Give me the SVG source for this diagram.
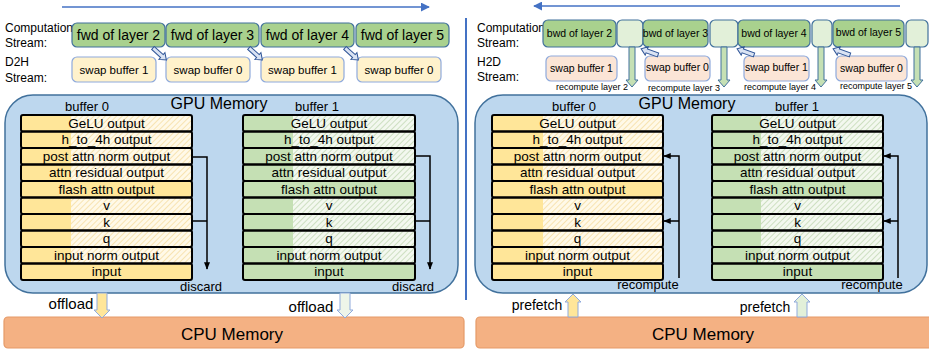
<svg xmlns="http://www.w3.org/2000/svg" width="929" height="351" viewBox="0 0 929 351">
<defs>
<pattern id="hy" patternUnits="userSpaceOnUse" width="4" height="4" patternTransform="rotate(45)">
<rect width="4" height="4" fill="#FFF9E8"/><line x1="0" y1="0" x2="0" y2="4" stroke="#F2D58C" stroke-width="1.2"/>
</pattern>
<pattern id="hg" patternUnits="userSpaceOnUse" width="4" height="4" patternTransform="rotate(45)">
<rect width="4" height="4" fill="#F3F8EF"/><line x1="0" y1="0" x2="0" y2="4" stroke="#B3CFA3" stroke-width="1.2"/>
</pattern>
<marker id="ab" viewBox="0 0 10 10" refX="9" refY="5" markerWidth="6" markerHeight="6" orient="auto"><path d="M0,0 L10,5 L0,10 Z" fill="#4472C4"/></marker>
<marker id="ak" viewBox="0 0 10 10" refX="9" refY="5" markerWidth="5" markerHeight="5" orient="auto"><path d="M0,1 L10,5 L0,9 Z" fill="#000"/></marker>
<path id="dia" d="M0,-2 L12,-2 L12,-4.5 L18,0 L12,4.5 L12,2 L0,2 Z"/>
</defs>
<style>
text{font-family:"Liberation Sans",Arial,sans-serif;fill:#000}
.lab{font-size:12px}
.comp{fill:#A9D18E;stroke:#41719C;stroke-width:1.2}
.lite{fill:#E2F0D9;stroke:#41719C;stroke-width:1.2}
.d2h{fill:#FFF2CC;stroke:#8FAADC;stroke-width:1.2}
.h2d{fill:#FBE5D6;stroke:#8FAADC;stroke-width:1.2}
.ct{font-size:14px;text-anchor:middle}
.bt{font-size:10.5px;text-anchor:middle}
.st{font-size:11.5px;text-anchor:middle}
.sr{font-size:10.5px;text-anchor:middle}
.rc{font-size:9px;text-anchor:middle}
.gpu{fill:#BDD7EE;stroke:#41719C;stroke-width:1.5}
.cpu{fill:#F4B183;stroke:#E59A68;stroke-width:1.2}
.hy{fill:url(#hy)}
.hg{fill:url(#hg)}
.sy{fill:#FFE699}
.sg{fill:#C5E0B4}
.bd{fill:none;stroke:#000;stroke-width:2}
.rt{font-size:13.5px;text-anchor:middle}
.mt{font-size:13px;text-anchor:middle}
.of{font-size:15px;text-anchor:middle}
.pf{font-size:14px;text-anchor:middle}
.big{font-size:16px;text-anchor:middle}
.cpt{font-size:17px;text-anchor:middle}
.ln{fill:none;stroke:#000;stroke-width:1.5}
.dia{fill:#DAE3F3;stroke:#2F5597;stroke-width:1}
.vg{fill:#C5E0B4;stroke:#41719C;stroke-width:1}
</style>

<!-- panels -->
<g id="gpu-left"><rect class="gpu" x="5" y="95" width="453" height="198" rx="28"/><text class="big" x="219" y="109">GPU Memory</text></g>
<g id="gpu-right"><rect class="gpu" x="475" y="95" width="452" height="198" rx="28"/><text class="big" x="687" y="109">GPU Memory</text></g>
<g id="cpu-left"><rect class="cpu" x="4" y="317" width="460" height="31" rx="4"/><text class="cpt" x="232" y="340">CPU Memory</text></g>
<g id="cpu-right"><rect class="cpu" x="476" y="317" width="460" height="31" rx="4"/><text class="cpt" x="703" y="340">CPU Memory</text></g>

<!-- stream labels -->
<g id="labels-left" class="lab"><text x="5" y="32">Computation</text><text x="5" y="47">Stream:</text><text x="5" y="66">D2H</text><text x="5" y="82">Stream:</text></g>
<g id="labels-right" class="lab"><text x="477" y="32">Computation</text><text x="477" y="47">Stream:</text><text x="477" y="66">H2D</text><text x="477" y="81">Stream:</text></g>

<!-- forward computation -->
<g id="fwd2"><rect class="comp" x="72" y="23" width="93" height="24" rx="5"/><text class="ct" x="118.5" y="40">fwd of layer 2</text></g>
<g id="fwd3"><rect class="comp" x="166" y="23" width="93" height="24" rx="5"/><text class="ct" x="212.5" y="40">fwd of layer 3</text></g>
<g id="fwd4"><rect class="comp" x="261" y="23" width="93" height="24" rx="5"/><text class="ct" x="307.5" y="40">fwd of layer 4</text></g>
<g id="fwd5"><rect class="comp" x="356" y="23" width="93" height="24" rx="5"/><text class="ct" x="402.5" y="40">fwd of layer 5</text></g>
<g id="d2h1"><rect class="d2h" x="72" y="57" width="84" height="25" rx="5"/><text class="st" x="114" y="74">swap buffer 1</text></g>
<g id="d2h2"><rect class="d2h" x="166" y="57" width="84" height="25" rx="5"/><text class="st" x="208" y="74">swap buffer 0</text></g>
<g id="d2h3"><rect class="d2h" x="261" y="57" width="83" height="25" rx="5"/><text class="st" x="302.5" y="74">swap buffer 1</text></g>
<g id="d2h4"><rect class="d2h" x="357" y="57" width="84" height="25" rx="5"/><text class="st" x="399" y="74">swap buffer 0</text></g>

<!-- backward computation -->
<g id="bwd2"><rect class="comp" x="543" y="20" width="73" height="27" rx="5"/><text class="bt" x="579.5" y="37">bwd of layer 2</text></g>
<g id="rc2"><rect class="lite" x="617" y="20" width="26" height="27" rx="5"/></g>
<g id="bwd3"><rect class="comp" x="643" y="20" width="65" height="27" rx="5"/><text class="bt" x="675.5" y="37">bwd of layer 3</text></g>
<g id="rc3"><rect class="lite" x="710" y="20" width="28" height="27" rx="5"/></g>
<g id="bwd4"><rect class="comp" x="738" y="20" width="72" height="27" rx="5"/><text class="bt" x="774" y="37">bwd of layer 4</text></g>
<g id="rc4"><rect class="lite" x="812" y="20" width="20" height="27" rx="5"/></g>
<g id="bwd5"><rect class="comp" x="833" y="20" width="71" height="27" rx="5"/><text class="bt" x="868.5" y="36">bwd of layer 5</text></g>
<g id="rc5"><rect class="lite" x="906" y="20" width="22" height="27" rx="5"/></g>
<g id="h2d1"><rect class="h2d" x="546" y="56" width="71" height="25" rx="5"/><text class="sr" x="581.5" y="72">swap buffer 1</text></g>
<g id="h2d2"><rect class="h2d" x="645" y="56" width="65" height="25" rx="5"/><text class="sr" x="677.5" y="71">swap buffer 0</text></g>
<g id="h2d3"><rect class="h2d" x="744" y="56" width="65" height="25" rx="5"/><text class="sr" x="776.5" y="71">swap buffer 1</text></g>
<g id="h2d4"><rect class="h2d" x="836" y="56" width="71" height="25" rx="5"/><text class="sr" x="871.5" y="72">swap buffer 0</text></g>
<g id="rc-labels"><text class="rc" x="592" y="90">recompute layer 2</text><text class="rc" x="684" y="91">recompute layer 3</text><text class="rc" x="780" y="90">recompute layer 4</text><text class="rc" x="876" y="89">recompute layer 5</text></g>

<!-- left buffer 0 -->
<g id="lbuf0">
<text class="mt" x="87" y="111">buffer 0</text>
<rect class="hy" x="21" y="115" width="171" height="16.5"/><rect class="sy" x="21" y="115" width="50" height="16.5"/>
<rect class="hy" x="21" y="131.5" width="171" height="16.5"/><rect class="sy" x="21" y="131.5" width="50" height="16.5"/>
<rect class="hy" x="21" y="148" width="171" height="16.5"/><rect class="sy" x="21" y="148" width="50" height="16.5"/>
<rect class="hy" x="21" y="164.5" width="171" height="16.5"/><rect class="sy" x="21" y="164.5" width="50" height="16.5"/>
<rect class="sy" x="21" y="181" width="171" height="16.5"/>
<rect class="hy" x="21" y="197.5" width="171" height="16.5"/><rect class="sy" x="21" y="197.5" width="50" height="16.5"/>
<rect class="hy" x="21" y="214" width="171" height="16.5"/><rect class="sy" x="21" y="214" width="50" height="16.5"/>
<rect class="hy" x="21" y="230.5" width="171" height="16.5"/><rect class="sy" x="21" y="230.5" width="50" height="16.5"/>
<rect class="hy" x="21" y="247" width="171" height="16.5"/><rect class="sy" x="21" y="247" width="50" height="16.5"/>
<rect class="sy" x="21" y="263.5" width="171" height="16.5"/>
<rect class="bd" x="21" y="115" width="171" height="16.5" rx="2"/><rect class="bd" x="21" y="131.5" width="171" height="16.5" rx="2"/><rect class="bd" x="21" y="148" width="171" height="16.5" rx="2"/><rect class="bd" x="21" y="164.5" width="171" height="16.5" rx="2"/><rect class="bd" x="21" y="181" width="171" height="16.5" rx="2"/><rect class="bd" x="21" y="197.5" width="171" height="16.5" rx="2"/><rect class="bd" x="21" y="214" width="171" height="16.5" rx="2"/><rect class="bd" x="21" y="230.5" width="171" height="16.5" rx="2"/><rect class="bd" x="21" y="247" width="171" height="16.5" rx="2"/><rect class="bd" x="21" y="263.5" width="171" height="16.5" rx="2"/>
<g class="rt"><text x="106.5" y="127.8">GeLU output</text><text x="106.5" y="144.3">h_to_4h output</text><text x="106.5" y="160.8">post attn norm output</text><text x="106.5" y="177.3">attn residual output</text><text x="106.5" y="193.8">flash attn output</text><text x="106.5" y="210.3">v</text><text x="106.5" y="226.8">k</text><text x="106.5" y="243.3">q</text><text x="106.5" y="259.8">input norm output</text><text x="106.5" y="276.3">input</text></g>
</g>

<!-- left buffer 1 -->
<g id="lbuf1">
<text class="mt" x="317" y="111">buffer 1</text>
<rect class="hg" x="243" y="115" width="172" height="16.5"/><rect class="sg" x="243" y="115" width="50" height="16.5"/>
<rect class="hg" x="243" y="131.5" width="172" height="16.5"/><rect class="sg" x="243" y="131.5" width="50" height="16.5"/>
<rect class="hg" x="243" y="148" width="172" height="16.5"/><rect class="sg" x="243" y="148" width="50" height="16.5"/>
<rect class="hg" x="243" y="164.5" width="172" height="16.5"/><rect class="sg" x="243" y="164.5" width="50" height="16.5"/>
<rect class="sg" x="243" y="181" width="172" height="16.5"/>
<rect class="hg" x="243" y="197.5" width="172" height="16.5"/><rect class="sg" x="243" y="197.5" width="50" height="16.5"/>
<rect class="hg" x="243" y="214" width="172" height="16.5"/><rect class="sg" x="243" y="214" width="50" height="16.5"/>
<rect class="hg" x="243" y="230.5" width="172" height="16.5"/><rect class="sg" x="243" y="230.5" width="50" height="16.5"/>
<rect class="hg" x="243" y="247" width="172" height="16.5"/><rect class="sg" x="243" y="247" width="50" height="16.5"/>
<rect class="sg" x="243" y="263.5" width="172" height="16.5"/>
<rect class="bd" x="243" y="115" width="172" height="16.5" rx="2"/><rect class="bd" x="243" y="131.5" width="172" height="16.5" rx="2"/><rect class="bd" x="243" y="148" width="172" height="16.5" rx="2"/><rect class="bd" x="243" y="164.5" width="172" height="16.5" rx="2"/><rect class="bd" x="243" y="181" width="172" height="16.5" rx="2"/><rect class="bd" x="243" y="197.5" width="172" height="16.5" rx="2"/><rect class="bd" x="243" y="214" width="172" height="16.5" rx="2"/><rect class="bd" x="243" y="230.5" width="172" height="16.5" rx="2"/><rect class="bd" x="243" y="247" width="172" height="16.5" rx="2"/><rect class="bd" x="243" y="263.5" width="172" height="16.5" rx="2"/>
<g class="rt"><text x="329" y="127.8">GeLU output</text><text x="329" y="144.3">h_to_4h output</text><text x="329" y="160.8">post attn norm output</text><text x="329" y="177.3">attn residual output</text><text x="329" y="193.8">flash attn output</text><text x="329" y="210.3">v</text><text x="329" y="226.8">k</text><text x="329" y="243.3">q</text><text x="329" y="259.8">input norm output</text><text x="329" y="276.3">input</text></g>
</g>

<!-- right buffer 0 -->
<g id="rbuf0">
<text class="mt" x="574" y="111">buffer 0</text>
<rect class="hy" x="492" y="115" width="171" height="16.5"/><rect class="sy" x="492" y="115" width="51" height="16.5"/>
<rect class="hy" x="492" y="131.5" width="171" height="16.5"/><rect class="sy" x="492" y="131.5" width="51" height="16.5"/>
<rect class="hy" x="492" y="148" width="171" height="16.5"/><rect class="sy" x="492" y="148" width="51" height="16.5"/>
<rect class="hy" x="492" y="164.5" width="171" height="16.5"/><rect class="sy" x="492" y="164.5" width="51" height="16.5"/>
<rect class="sy" x="492" y="181" width="171" height="16.5"/>
<rect class="hy" x="492" y="197.5" width="171" height="16.5"/><rect class="sy" x="492" y="197.5" width="51" height="16.5"/>
<rect class="hy" x="492" y="214" width="171" height="16.5"/><rect class="sy" x="492" y="214" width="51" height="16.5"/>
<rect class="hy" x="492" y="230.5" width="171" height="16.5"/><rect class="sy" x="492" y="230.5" width="51" height="16.5"/>
<rect class="hy" x="492" y="247" width="171" height="16.5"/><rect class="sy" x="492" y="247" width="51" height="16.5"/>
<rect class="sy" x="492" y="263.5" width="171" height="16.5"/>
<rect class="bd" x="492" y="115" width="171" height="16.5" rx="2"/><rect class="bd" x="492" y="131.5" width="171" height="16.5" rx="2"/><rect class="bd" x="492" y="148" width="171" height="16.5" rx="2"/><rect class="bd" x="492" y="164.5" width="171" height="16.5" rx="2"/><rect class="bd" x="492" y="181" width="171" height="16.5" rx="2"/><rect class="bd" x="492" y="197.5" width="171" height="16.5" rx="2"/><rect class="bd" x="492" y="214" width="171" height="16.5" rx="2"/><rect class="bd" x="492" y="230.5" width="171" height="16.5" rx="2"/><rect class="bd" x="492" y="247" width="171" height="16.5" rx="2"/><rect class="bd" x="492" y="263.5" width="171" height="16.5" rx="2"/>
<g class="rt"><text x="577.5" y="127.8">GeLU output</text><text x="577.5" y="144.3">h_to_4h output</text><text x="577.5" y="160.8">post attn norm output</text><text x="577.5" y="177.3">attn residual output</text><text x="577.5" y="193.8">flash attn output</text><text x="577.5" y="210.3">v</text><text x="577.5" y="226.8">k</text><text x="577.5" y="243.3">q</text><text x="577.5" y="259.8">input norm output</text><text x="577.5" y="276.3">input</text></g>
</g>

<!-- right buffer 1 -->
<g id="rbuf1">
<text class="mt" x="797" y="111">buffer 1</text>
<rect class="hg" x="712" y="115" width="171" height="16.5"/><rect class="sg" x="712" y="115" width="49" height="16.5"/>
<rect class="hg" x="712" y="131.5" width="171" height="16.5"/><rect class="sg" x="712" y="131.5" width="49" height="16.5"/>
<rect class="hg" x="712" y="148" width="171" height="16.5"/><rect class="sg" x="712" y="148" width="49" height="16.5"/>
<rect class="hg" x="712" y="164.5" width="171" height="16.5"/><rect class="sg" x="712" y="164.5" width="49" height="16.5"/>
<rect class="sg" x="712" y="181" width="171" height="16.5"/>
<rect class="hg" x="712" y="197.5" width="171" height="16.5"/><rect class="sg" x="712" y="197.5" width="49" height="16.5"/>
<rect class="hg" x="712" y="214" width="171" height="16.5"/><rect class="sg" x="712" y="214" width="49" height="16.5"/>
<rect class="hg" x="712" y="230.5" width="171" height="16.5"/><rect class="sg" x="712" y="230.5" width="49" height="16.5"/>
<rect class="hg" x="712" y="247" width="171" height="16.5"/><rect class="sg" x="712" y="247" width="49" height="16.5"/>
<rect class="sg" x="712" y="263.5" width="171" height="16.5"/>
<rect class="bd" x="712" y="115" width="171" height="16.5" rx="2"/><rect class="bd" x="712" y="131.5" width="171" height="16.5" rx="2"/><rect class="bd" x="712" y="148" width="171" height="16.5" rx="2"/><rect class="bd" x="712" y="164.5" width="171" height="16.5" rx="2"/><rect class="bd" x="712" y="181" width="171" height="16.5" rx="2"/><rect class="bd" x="712" y="197.5" width="171" height="16.5" rx="2"/><rect class="bd" x="712" y="214" width="171" height="16.5" rx="2"/><rect class="bd" x="712" y="230.5" width="171" height="16.5" rx="2"/><rect class="bd" x="712" y="247" width="171" height="16.5" rx="2"/><rect class="bd" x="712" y="263.5" width="171" height="16.5" rx="2"/>
<g class="rt"><text x="797.5" y="127.8">GeLU output</text><text x="797.5" y="144.3">h_to_4h output</text><text x="797.5" y="160.8">post attn norm output</text><text x="797.5" y="177.3">attn residual output</text><text x="797.5" y="193.8">flash attn output</text><text x="797.5" y="210.3">v</text><text x="797.5" y="226.8">k</text><text x="797.5" y="243.3">q</text><text x="797.5" y="259.8">input norm output</text><text x="797.5" y="276.3">input</text></g>
</g>

<!-- connectors -->
<g id="connectors">
<line x1="62" y1="7" x2="429" y2="7" stroke="#4472C4" stroke-width="1.5" marker-end="url(#ab)"/>
<line x1="900" y1="6" x2="534" y2="6" stroke="#4472C4" stroke-width="1.5" marker-end="url(#ab)"/>
<line x1="466" y1="18" x2="466" y2="300" stroke="#4472C4" stroke-width="2"/>
<use href="#dia" class="dia" transform="translate(153,48) rotate(42)"/>
<use href="#dia" class="dia" transform="translate(249,48) rotate(42)"/>
<use href="#dia" class="dia" transform="translate(345,48) rotate(42)"/>
<use href="#dia" class="dia" transform="translate(658,55) rotate(200)"/>
<use href="#dia" class="dia" transform="translate(754,55) rotate(200)"/>
<use href="#dia" class="dia" transform="translate(850,55) rotate(200)"/>
<path class="vg" d="M629,47 L635,47 L635,80 L638,80 L632,87 L626,80 L629,80 Z"/>
<path class="vg" d="M721,47 L727,47 L727,80 L730,80 L724,87 L718,80 L721,80 Z"/>
<path class="vg" d="M818,47 L824,47 L824,80 L827,80 L821,87 L815,80 L818,80 Z"/>
<path class="vg" d="M914,47 L920,47 L920,80 L923,80 L917,87 L911,80 L914,80 Z"/>
<polyline class="ln" points="192,157 207,157 207,269" marker-end="url(#ak)"/>
<line class="ln" x1="192" y1="221" x2="207" y2="221"/>
<polyline class="ln" points="415,156 430,156 430,269" marker-end="url(#ak)"/>
<line class="ln" x1="415" y1="221" x2="430" y2="221"/>
<polyline class="ln" points="679,278 679,156 664,156" marker-end="url(#ak)"/>
<line class="ln" x1="679" y1="221" x2="664" y2="221" marker-end="url(#ak)"/>
<polyline class="ln" points="898,278 898,156 884,156" marker-end="url(#ak)"/>
<line class="ln" x1="898" y1="221" x2="884" y2="221" marker-end="url(#ak)"/>
<path d="M97,293 L107,293 L107,310 L110,310 L102,318 L94,310 L97,310 Z" fill="#FFE699" stroke="#8FAADC"/>
<path d="M340,293 L350,293 L350,310 L353,310 L345,318 L337,310 L340,310 Z" fill="#EEF5E9" stroke="#8FAADC"/>
<path d="M568,317 L578,317 L578,302 L581,302 L573,294 L565,302 L568,302 Z" fill="#FFE699" stroke="#8FAADC"/>
<path d="M797,317 L807,317 L807,302 L810,302 L802,294 L794,302 L797,302 Z" fill="#E2F0D9" stroke="#8FAADC"/>
<g class="mt"><text x="201" y="291">discard</text><text x="413" y="291">discard</text><text x="648" y="289">recompute</text><text x="872" y="289">recompute</text></g>
<g class="of"><text x="71" y="309">offload</text><text x="311" y="312">offload</text></g>
<g class="pf"><text x="537" y="310">prefetch</text><text x="765" y="312">prefetch</text></g>
</g>
</svg>
